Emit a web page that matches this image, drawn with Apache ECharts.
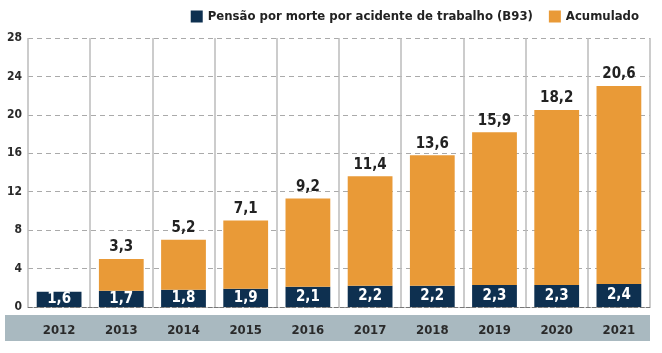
<!DOCTYPE html>
<html>
<head>
<meta charset="utf-8">
<script src="https://cdn.jsdelivr.net/npm/echarts@6/dist/echarts.min.js"></script>
<style>
  html, body { margin: 0; padding: 0; background: #fff; }
  #chart { width: 662px; height: 353px; }
</style>
</head>
<body>
<div id="chart"></div>
<script>
// dados
const years = ['2012', '2013', '2014', '2015', '2016', '2017', '2018', '2019', '2020', '2021']
const b93 = [1.6, 1.7, 1.8, 1.9, 2.1, 2.2, 2.2, 2.3, 2.3, 2.4]
const acumulado = [null, 3.3, 5.2, 7.1, 9.2, 11.4, 13.6, 15.9, 18.2, 20.6]
const yTicks = [0, 4, 8, 12, 16, 20, 24, 28]

const FONT = '"Liberation Sans Narrow", "DejaVu Sans Condensed", Roboto, sans-serif'
const fmt = (v) => String(v).replace('.', ',')

const chart = echarts.init(document.getElementById('chart'))

chart.setOption({
  animation: false,
  textStyle: { fontFamily: FONT },
  legend: {
    top: 5,
    right: 18,
    itemWidth: 12,
    itemHeight: 12,
    itemGap: 16,
    icon: 'rect',
    textStyle: { fontFamily: FONT, fontWeight: 'bold', fontSize: 13, color: '#222' },
    data: ['Pensão por morte por acidente de trabalho (B93)', 'Acumulado']
  },
  grid: { left: 28, right: 12, top: 38, bottom: 46 },
  // faixa cinza atrás dos anos
  graphic: [{
    type: 'rect',
    z: -1,
    shape: { x: 5, y: 315, width: 645, height: 26 },
    style: { fill: '#a9b9c0' }
  }],
  xAxis: {
    type: 'category',
    data: years,
    axisTick: { show: false },
    axisLine: { show: true, lineStyle: { color: '#777', type: 'dashed', width: 1 } },
    splitLine: { show: true, interval: 0, lineStyle: { color: '#bbb', width: 1.5 } },
    axisLabel: {
      margin: 17,
      interval: 0,
      fontFamily: FONT,
      fontWeight: 'bold',
      fontSize: 13,
      color: '#2a2a2a'
    }
  },
  yAxis: {
    type: 'value',
    min: 0,
    max: 28,
    interval: 4,
    axisLine: { show: false },
    axisTick: { show: false },
    axisLabel: {
      margin: 6,
      fontFamily: FONT,
      fontWeight: 'bold',
      fontSize: 12,
      color: '#2a2a2a',
      formatter: (v) => (yTicks.includes(v) ? String(v) : '')
    },
    splitLine: { lineStyle: { color: '#aaa', type: [5, 4], width: 1 } }
  },
  series: [
    {
      name: 'Pensão por morte por acidente de trabalho (B93)',
      type: 'bar',
      stack: 'total',
      barWidth: '72%',
      data: b93,
      itemStyle: { color: '#0e3050' },
      label: {
        show: true,
        position: 'inside',
        fontFamily: FONT,
        fontWeight: 'bold',
        fontSize: 15,
        color: '#fff',
        formatter: (p) => fmt(p.value)
      }
    },
    {
      name: 'Acumulado',
      type: 'bar',
      stack: 'total',
      barWidth: '72%',
      data: acumulado,
      itemStyle: { color: '#e99a37' },
      label: {
        show: true,
        position: 'top',
        distance: 4,
        fontFamily: FONT,
        fontWeight: 'bold',
        fontSize: 15,
        color: '#222',
        formatter: (p) => (p.value == null ? '' : fmt(p.value))
      }
    }
  ]
})
</script>
</body>
</html>
